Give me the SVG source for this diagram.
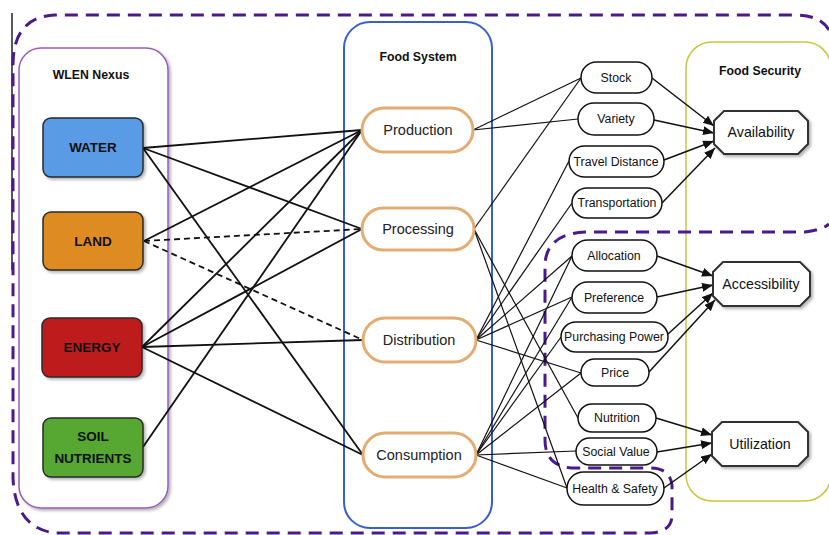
<svg xmlns="http://www.w3.org/2000/svg" width="829" height="535" viewBox="0 0 829 535">
<style>
text{font-family:"Liberation Sans",Arial,sans-serif;fill:#111;text-anchor:middle;dominant-baseline:central}
.title{font-weight:bold;font-size:12.3px}
.box{stroke:#2a2a2a;stroke-width:1.5}
.boxt{font-weight:bold;font-size:13.5px}
.oval{fill:#fff;stroke:#E2AC72;stroke-width:3}
.ovt{font-size:14.5px;fill:#222}
.fac{fill:#fff;stroke:#111;stroke-width:1.5}
.fact{font-size:12.3px}
.sec{fill:#fff;stroke:#333;stroke-width:2}
.sect{font-size:14.2px}
.w{fill:none;stroke:#111;stroke-width:1.8}
.d{stroke-dasharray:6 4}
.r{fill:none;stroke:#111;stroke-width:1.2}
.a{fill:none;stroke:#111;stroke-width:1.5;marker-end:url(#ah)}
</style>
<defs>
<marker id="ah" markerUnits="userSpaceOnUse" markerWidth="12" markerHeight="10" refX="11" refY="4.5" orient="auto">
<path d="M0,0 L11,4.5 L0,9 z" fill="#111"/>
</marker>
<filter id="sh" x="-10%" y="-10%" width="130%" height="130%">
<feDropShadow dx="2" dy="2" stdDeviation="1.5" flood-color="#000" flood-opacity="0.3"/>
</filter>
</defs>
<rect width="829" height="535" fill="#fff"/>
<line x1="12" y1="13" x2="12" y2="270" stroke="#222" stroke-width="1.5"/>

<g id="panel-wlen">
<rect x="19" y="48" width="149" height="460" rx="22" fill="#fff" stroke="#9B5CB8" stroke-width="1.5" filter="url(#sh)"/>
<text class="title" x="91" y="75">WLEN Nexus</text>
</g>
<g id="panel-food-system">
<rect x="344" y="22" width="148" height="506" rx="26" fill="#fff" stroke="#3A5FC8" stroke-width="2"/>
<text class="title" x="418" y="57">Food System</text>
</g>
<g id="panel-food-security">
<rect x="686" y="42" width="145" height="459" rx="26" fill="#fff" stroke="#C8C83C" stroke-width="1.5"/>
<text class="title" x="760" y="71">Food Security</text>
</g>

<path id="outer-boundary" d="M829,30 Q820,15 795,15 L55,15 Q13,17 13,65 L13,478 Q15,528 55,533 L650,533 Q672,532 672,515 L672,485 Q670,468 650,468 L572,468 Q545,466 545,440 L545,265 Q546,234 585,232 L805,232 Q822,230 829,224" fill="none" stroke="#4A1A8C" stroke-width="3" stroke-dasharray="13 8"/>

<g id="connectors">
<line class="w" x1="143" y1="148" x2="362" y2="130"/>
<line class="w" x1="143" y1="148" x2="362" y2="229"/>
<line class="w" x1="143" y1="148" x2="363" y2="455"/>
<line class="w" x1="144" y1="241" x2="362" y2="130"/>
<line class="w d" x1="144" y1="241" x2="362" y2="229"/>
<line class="w d" x1="144" y1="241" x2="363" y2="340"/>
<line class="w" x1="142" y1="347" x2="362" y2="130"/>
<line class="w" x1="142" y1="347" x2="362" y2="229"/>
<line class="w" x1="142" y1="347" x2="363" y2="340"/>
<line class="w" x1="142" y1="347" x2="363" y2="455"/>
<line class="w" x1="143" y1="447" x2="362" y2="130"/>

<line class="r" x1="473" y1="130" x2="581" y2="78"/>
<line class="r" x1="473" y1="130" x2="578" y2="119"/>
<line class="r" x1="474" y1="229" x2="581" y2="78"/>
<line class="r" x1="474" y1="229" x2="578" y2="418"/>
<line class="r" x1="474" y1="229" x2="567" y2="488"/>
<line class="r" x1="476" y1="340" x2="569" y2="161"/>
<line class="r" x1="476" y1="340" x2="572" y2="203"/>
<line class="r" x1="476" y1="340" x2="572" y2="256"/>
<line class="r" x1="476" y1="340" x2="572" y2="297"/>
<line class="r" x1="476" y1="340" x2="581" y2="373"/>
<line class="r" x1="476" y1="455" x2="572" y2="256"/>
<line class="r" x1="476" y1="455" x2="572" y2="297"/>
<line class="r" x1="476" y1="455" x2="561" y2="337"/>
<line class="r" x1="476" y1="455" x2="581" y2="373"/>
<line class="r" x1="476" y1="455" x2="576" y2="451"/>
<line class="r" x1="476" y1="455" x2="567" y2="488"/>

<line class="a" x1="652" y1="78" x2="714" y2="126"/>
<line class="a" x1="654" y1="120" x2="714" y2="133"/>
<line class="a" x1="664" y1="160" x2="714" y2="141"/>
<line class="a" x1="662" y1="203" x2="715" y2="148"/>
<line class="a" x1="657" y1="256" x2="713" y2="276"/>
<line class="a" x1="657" y1="297" x2="713" y2="285"/>
<line class="a" x1="668" y1="334" x2="713" y2="293"/>
<line class="a" x1="649" y1="372" x2="715" y2="300"/>
<line class="a" x1="656" y1="418" x2="712" y2="435"/>
<line class="a" x1="657" y1="452" x2="712" y2="443"/>
<line class="a" x1="664" y1="488" x2="712" y2="454"/>
</g>

<g id="water"><rect class="box" x="43" y="118" width="100" height="59" rx="8" fill="#5A9BE6" filter="url(#sh)"/><text class="boxt" x="93" y="147">WATER</text></g>
<g id="land"><rect class="box" x="43" y="212" width="100" height="58" rx="8" fill="#DE8C24" filter="url(#sh)"/><text class="boxt" x="93" y="241">LAND</text></g>
<g id="energy"><rect class="box" x="42" y="318" width="100" height="59" rx="8" fill="#BE1A1E" filter="url(#sh)"/><text class="boxt" x="92" y="347">ENERGY</text></g>
<g id="soil-nutrients"><rect class="box" x="43" y="418" width="100" height="59" rx="8" fill="#56A832" filter="url(#sh)"/><text class="boxt" x="93" y="436">SOIL</text><text class="boxt" x="93" y="458">NUTRIENTS</text></g>

<g id="production"><rect class="oval" x="362" y="108" width="111" height="44" rx="22"/><text class="ovt" x="418" y="130">Production</text></g>
<g id="processing"><rect class="oval" x="362" y="208" width="112" height="42" rx="21"/><text class="ovt" x="418" y="229">Processing</text></g>
<g id="distribution"><rect class="oval" x="363" y="318" width="113" height="44" rx="22"/><text class="ovt" x="419" y="340">Distribution</text></g>
<g id="consumption"><rect class="oval" x="363" y="433" width="113" height="44" rx="22"/><text class="ovt" x="419" y="455">Consumption</text></g>

<g id="stock"><rect class="fac" x="581" y="62" width="71" height="31" rx="15.5"/><text class="fact" x="616" y="78">Stock</text></g>
<g id="variety"><rect class="fac" x="578" y="103" width="76" height="32" rx="16"/><text class="fact" x="616" y="119">Variety</text></g>
<g id="travel-distance"><rect class="fac" x="569" y="146" width="95" height="31" rx="15.5"/><text class="fact" x="616" y="162">Travel Distance</text></g>
<g id="transportation"><rect class="fac" x="572" y="188" width="90" height="30" rx="15"/><text class="fact" x="617" y="203">Transportation</text></g>
<g id="allocation"><rect class="fac" x="572" y="240" width="85" height="31" rx="15.5"/><text class="fact" x="614" y="256">Allocation</text></g>
<g id="preference"><rect class="fac" x="572" y="282" width="85" height="31" rx="15.5"/><text class="fact" x="614" y="298">Preference</text></g>
<g id="purchasing-power"><rect class="fac" x="561" y="322" width="107" height="30" rx="15"/><text class="fact" x="614" y="337">Purchasing Power</text></g>
<g id="price"><rect class="fac" x="581" y="359" width="68" height="27" rx="13.5"/><text class="fact" x="615" y="373">Price</text></g>
<g id="nutrition"><rect class="fac" x="578" y="404" width="78" height="28" rx="14"/><text class="fact" x="617" y="418">Nutrition</text></g>
<g id="social-value"><rect class="fac" x="576" y="438" width="81" height="27" rx="13.5"/><text class="fact" x="616" y="452">Social Value</text></g>
<g id="health-safety"><rect class="fac" x="567" y="472" width="97" height="33" rx="16.5"/><text class="fact" x="615" y="489">Health &amp; Safety</text></g>

<g id="availability"><polygon class="sec" points="724,111 798,111 808,121 808,144 798,154 724,154 714,144 714,121" filter="url(#sh)"/><text class="sect" x="761" y="132">Availability</text></g>
<g id="accessibility"><polygon class="sec" points="723,262 800,262 810,272 810,296 800,306 723,306 713,296 713,272" filter="url(#sh)"/><text class="sect" x="761" y="284">Accessibility</text></g>
<g id="utilization"><polygon class="sec" points="722,422 798,422 808,432 808,456 798,466 722,466 712,456 712,432" filter="url(#sh)"/><text class="sect" x="760" y="444">Utilization</text></g>
</svg>
